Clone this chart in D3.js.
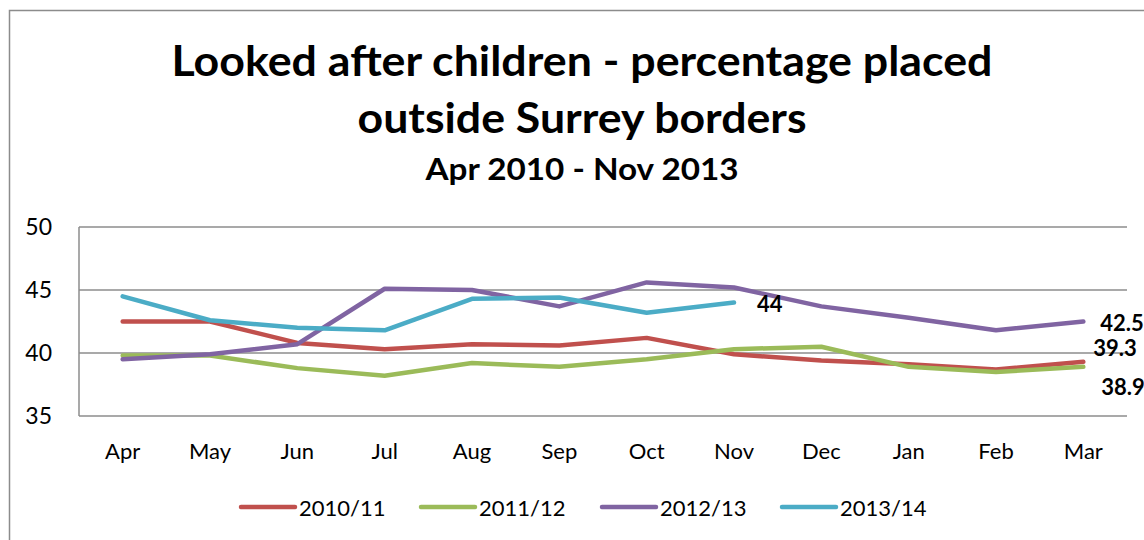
<!DOCTYPE html>
<html>
<head>
<meta charset="utf-8">
<script src="https://cdn.jsdelivr.net/npm/d3@7"></script>
<style>
  body { margin: 0; background: #fff; }
  svg { display: block; font-family: Lato, "Open Sans", sans-serif; }
</style>
</head>
<body>
<div id="chart"></div>
<script>
// months of the financial year
const months = ["Apr", "May", "Jun", "Jul", "Aug", "Sep", "Oct", "Nov", "Dec", "Jan", "Feb", "Mar"];
const seriesNames = ["2010/11", "2011/12", "2012/13", "2013/14"];
const seriesColors = ["#C0504D", "#9BBB59", "#8064A2", "#4BACC6"];

// values (% placed outside Surrey)
const values2010 = [42.5, 42.5, 40.8, 40.3, 40.7, 40.6, 41.2, 39.9, 39.4, 39.1, 38.7, 39.3];
const values2011 = [39.8, 39.8, 38.8, 38.2, 39.2, 38.9, 39.5, 40.3, 40.5, 38.9, 38.5, 38.9];
const values2012 = [39.5, 39.9, 40.7, 45.1, 45.0, 43.7, 45.6, 45.2, 43.7, 42.8, 41.8, 42.5];
const values2013 = [44.5, 42.6, 42.0, 41.8, 44.3, 44.4, 43.2, 44.0];

const yTicks = [35, 40, 45, 50];

const allSeries = [values2010, values2011, values2012, values2013];

const width = 1144, height = 540;
const plot = { left: 79, right: 1127, top: 227, bottom: 416 };

const svg = d3.select("#chart")
  .append("svg")
  .attr("width", width)
  .attr("height", height);

// outer chart border (runs off the right and bottom edges)
svg.append("rect")
  .attr("x", 9.5).attr("y", 10.5)
  .attr("width", 1160).attr("height", 560)
  .attr("fill", "none")
  .attr("stroke", "#8c8c8c")
  .attr("stroke-width", 1.5);

// titles
const titles = [
  { text: "Looked after children - percentage placed", y: 76, size: 42, len: 821 },
  { text: "outside Surrey borders", y: 133, size: 42, len: 449 },
  { text: "Apr 2010 - Nov 2013", y: 180, size: 30, len: 313 }
];
svg.selectAll(".title")
  .data(titles)
  .enter()
  .append("text")
  .attr("class", "title")
  .attr("x", 582)
  .attr("y", d => d.y)
  .attr("text-anchor", "middle")
  .attr("font-weight", "bold")
  .attr("font-size", d => d.size)
  .attr("textLength", d => d.len)
  .attr("lengthAdjust", "spacingAndGlyphs")
  .text(d => d.text);

// scales
const x = d3.scaleBand()
  .domain(months)
  .range([plot.left, plot.right]);

const y = d3.scaleLinear()
  .domain([35, 50])
  .range([plot.bottom, plot.top]);

// gridlines
svg.append("g")
  .selectAll("line")
  .data(yTicks)
  .enter()
  .append("line")
  .attr("x1", plot.left).attr("x2", plot.right)
  .attr("y1", d => y(d)).attr("y2", d => y(d))
  .attr("stroke", "#8c8c8c")
  .attr("stroke-width", 1.5);

// left axis line
svg.append("line")
  .attr("x1", plot.left).attr("x2", plot.left)
  .attr("y1", plot.top).attr("y2", plot.bottom)
  .attr("stroke", "#8c8c8c")
  .attr("stroke-width", 1.5);

// y axis labels
const yAxis = d3.axisLeft(y).tickValues(yTicks).tickSize(0).tickPadding(27);
svg.append("g")
  .attr("transform", `translate(${plot.left},0)`)
  .call(yAxis)
  .call(g => g.select(".domain").remove())
  .selectAll("text")
  .attr("font-family", "Lato, sans-serif")
  .attr("font-size", 23)
  .attr("fill", "#000");

// x axis labels
const xAxis = d3.axisBottom(x).tickSize(0).tickPadding(27);
svg.append("g")
  .attr("transform", `translate(0,${plot.bottom})`)
  .call(xAxis)
  .call(g => g.select(".domain").remove())
  .selectAll("text")
  .attr("font-family", "Lato, sans-serif")
  .attr("font-size", 22)
  .attr("fill", "#000");

// lines
const line = d3.line()
  .x((d, i) => x(months[i]) + x.bandwidth() / 2)
  .y(d => y(d));

svg.append("g")
  .selectAll("path")
  .data(allSeries)
  .enter()
  .append("path")
  .attr("d", d => line(d))
  .attr("fill", "none")
  .attr("stroke", (d, i) => seriesColors[i])
  .attr("stroke-width", 4.5)
  .attr("stroke-linejoin", "round")
  .attr("stroke-linecap", "round");

// data labels on last points
const labelInfo = [
  { s: 0, dx: 10, dy: -14 },
  { s: 1, dx: 18, dy: 20 },
  { s: 2, dx: 17, dy: 1 },
  { s: 3, dx: 23, dy: 1 }
];
svg.append("g")
  .selectAll("text")
  .data(labelInfo)
  .enter()
  .append("text")
  .attr("x", d => x(months[allSeries[d.s].length - 1]) + x.bandwidth() / 2 + d.dx)
  .attr("y", d => y(allSeries[d.s][allSeries[d.s].length - 1]) + d.dy)
  .attr("dominant-baseline", "central")
  .attr("font-weight", "bold")
  .attr("font-size", 22)
  .text(d => {
    const v = allSeries[d.s][allSeries[d.s].length - 1];
    return Number.isInteger(v) ? v : v.toFixed(1);
  });

// legend
const legendX = [241, 421, 602, 782];
const legend = svg.append("g")
  .selectAll("g")
  .data(seriesNames)
  .enter()
  .append("g")
  .attr("transform", (d, i) => `translate(${legendX[i]},507)`);

legend.append("line")
  .attr("x1", 0).attr("x2", 54)
  .attr("stroke", (d, i) => seriesColors[i])
  .attr("stroke-width", 4.5)
  .attr("stroke-linecap", "round");

legend.append("text")
  .attr("x", 58)
  .attr("dominant-baseline", "central")
  .attr("font-size", 22)
  .text(d => d);
</script>
</body>
</html>
